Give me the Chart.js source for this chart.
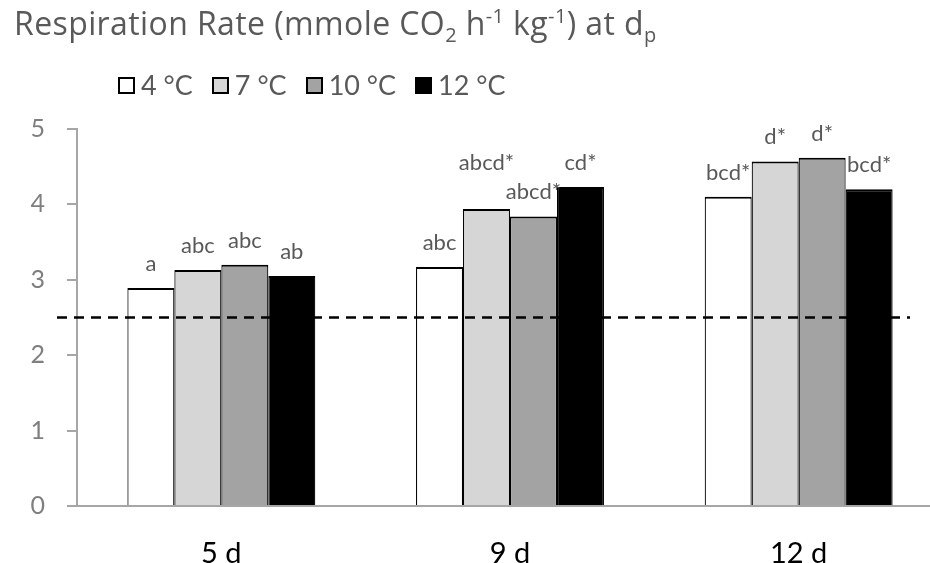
<!DOCTYPE html>
<html>
<head>
<meta charset="utf-8">
<script src="https://cdn.jsdelivr.net/npm/chart.js@4.4.1/dist/chart.umd.min.js"></script>
<style>
  html, body { margin: 0; padding: 0; background: #fff; overflow: hidden; width: 930px; height: 563px; }
  #wrap { position: relative; width: 930px; height: 563px; overflow: hidden; }
  #title { position: absolute; left: 14px; top: 7px; font-family: "Open Sans", sans-serif; font-size: 32px; letter-spacing: 0.4px; line-height: 1; color: #595959; white-space: nowrap; font-variant-ligatures: none; }
  #title sub, #title sup { font-size: 20px; line-height: 0; }
  #legend { position: absolute; left: 118px; top: 77px; display: flex; align-items: flex-start; font-family: Lato, sans-serif; color: #595959; }
  .item { display: flex; align-items: flex-start; margin-right: 19px; }
  .box { width: 17px; height: 17px; box-sizing: border-box; border: 2px solid #000; margin-right: 6px; }
  .txt { font-size: 27px; line-height: 1; position: relative; top: -6px; white-space: nowrap; }
  canvas { position: absolute; left: 0; top: 0; }
</style>
</head>
<body>
<div id="wrap">
  <canvas id="chart" width="943" height="563"></canvas>
  <div id="title">Respiration Rate (mmole CO<sub>2</sub> h<sup>-1</sup> kg<sup>-1</sup>) at d<sub>p</sub></div>
  <div id="legend"></div>
</div>
<script>
const days = ['5 d', '9 d', '12 d'];
const series = ['4 °C', '7 °C', '10 °C', '12 °C'];
const colors = ['#ffffff', '#d6d6d6', '#a3a3a3', '#000000'];

const rate4 = [2.89, 3.17, 4.10];
const rate7 = [3.13, 3.94, 4.57];
const rate10 = [3.20, 3.84, 4.62];
const rate12 = [3.05, 4.23, 4.20];

const letters4 = ['a', 'abc', 'bcd*'];
const letters7 = ['abc', 'abcd*', 'd*'];
const letters10 = ['abc', 'abcd*', 'd*'];
const letters12 = ['ab', 'cd*', 'bcd*'];

const refLevel = 2.5;
const yTicks = [0, 1, 2, 3, 4, 5];

const values = [rate4, rate7, rate10, rate12];
const letters = [letters4, letters7, letters10, letters12];

Chart.defaults.font.family = 'Lato, sans-serif';

// legend in html
const leg = document.getElementById('legend');
series.forEach((s, i) => {
  leg.innerHTML += `<div class="item"><span class="box" style="background:${colors[i]}"></span><span class="txt">${s}</span></div>`;
});

const refLine = {
  id: 'refLine',
  afterDatasetsDraw(chart) {
    const ctx = chart.ctx;
    const a = chart.chartArea;
    const y = chart.scales.y.getPixelForValue(refLevel);
    ctx.save();
    ctx.strokeStyle = '#000';
    ctx.lineWidth = 2.5;
    ctx.setLineDash([10, 7]);
    ctx.beginPath();
    ctx.moveTo(a.left - 20, y);
    ctx.lineTo(a.right - 33, y);
    ctx.stroke();
    ctx.restore();
  }
};

// letters above bars, the higher one of two colliding labels goes up a line
const letterLabels = {
  id: 'letterLabels',
  afterDatasetsDraw(chart) {
    const ctx = chart.ctx;
    const fs = 22;
    ctx.save();
    ctx.font = fs + 'px Lato, sans-serif';
    ctx.fillStyle = '#595959';
    ctx.textAlign = 'center';
    ctx.textBaseline = 'alphabetic';
    const n = chart.data.datasets.length;
    for (let j = 0; j < days.length; j++) {
      const items = [];
      for (let i = 0; i < n; i++) {
        const bar = chart.getDatasetMeta(i).data[j];
        const t = letters[i][j];
        items.push({t: t, x: bar.x, y: bar.y - 17, w: ctx.measureText(t).width});
      }
      for (let i = 0; i < n - 1; i++) {
        const p = items[i], q = items[i + 1];
        const hit = Math.abs(p.x - q.x) < (p.w + q.w) / 2 + 2 && Math.abs(p.y - q.y) < fs;
        if (hit) {
          if (p.y < q.y) p.y = q.y - fs - 7;
          else q.y = p.y - fs - 7;
        }
      }
      items.forEach(it => ctx.fillText(it.t, it.x, it.y));
    }
    ctx.restore();
  }
};

new Chart(document.getElementById('chart'), {
  type: 'bar',
  data: {
    labels: days,
    datasets: series.map((s, i) => ({
      label: s,
      data: values[i],
      backgroundColor: colors[i],
      borderColor: '#000',
      borderWidth: {top: 2, left: 1.2, right: 1.2, bottom: 0},
      borderSkipped: false,
      categoryPercentage: 0.651,
      barPercentage: 1
    }))
  },
  options: {
    responsive: false,
    animation: false,
    layout: {padding: {top: 129, left: 0, right: 0, bottom: 0}},
    plugins: {
      legend: {display: false},
      tooltip: {enabled: false}
    },
    scales: {
      x: {
        grid: {display: false},
        border: {color: '#a6a6a6', width: 2},
        ticks: {font: {size: 29}, color: '#000', padding: 22},
        afterFit: (s) => { s.height = 57; }
      },
      y: {
        min: 0,
        max: 5,
        afterBuildTicks: (s) => { s.ticks = yTicks.map(v => ({value: v})); },
        grid: {drawOnChartArea: false, drawTicks: true, tickLength: 10, color: '#a6a6a6', lineWidth: 2},
        border: {color: '#a6a6a6', width: 2},
        ticks: {font: {size: 25}, color: '#7f7f7f', padding: 22},
        afterFit: (s) => { s.width = 77; }
      }
    }
  },
  plugins: [refLine, letterLabels]
});
</script>
</body>
</html>
